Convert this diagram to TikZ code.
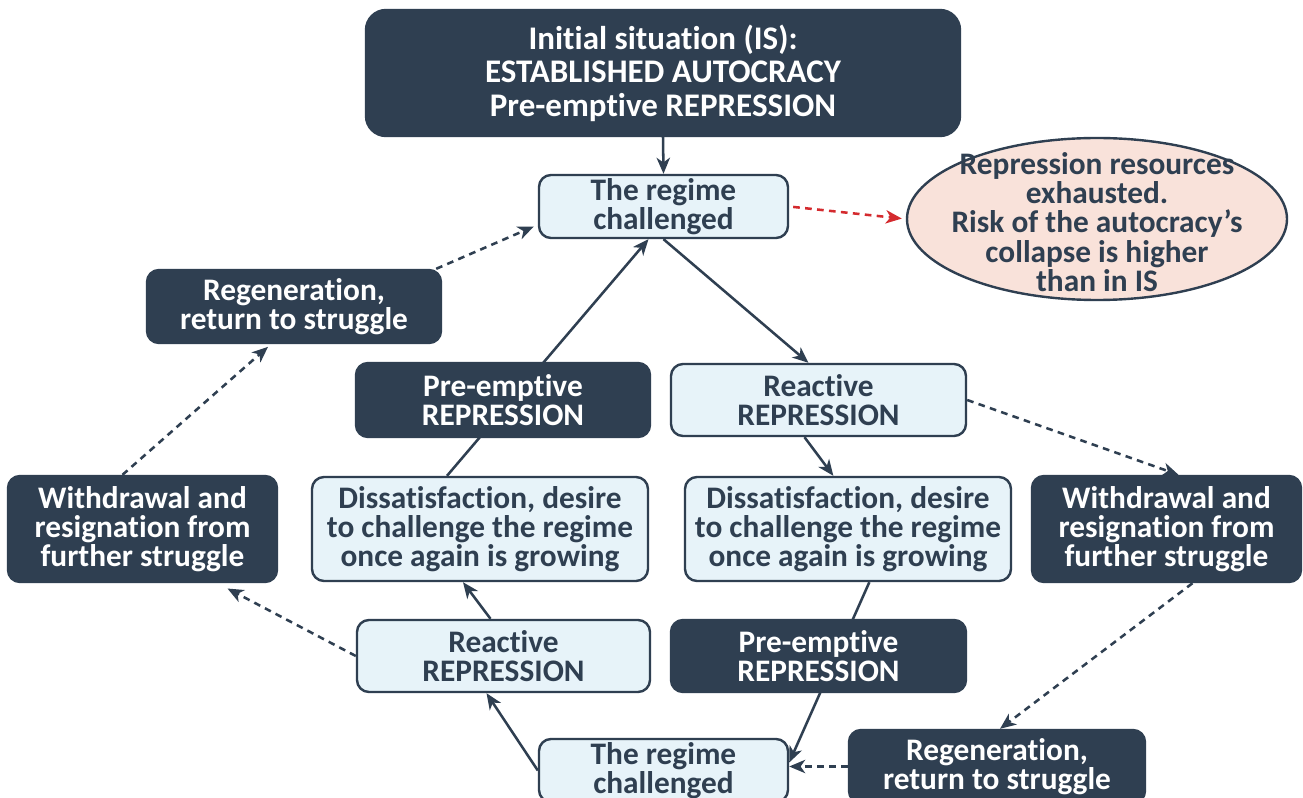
\documentclass[tikz,border=0pt]{standalone}
\usepackage{fontspec}
\setmainfont{Carlito}[RawFeature={-liga;-clig;-calt;-dlig}]
\usetikzlibrary{arrows.meta,shapes.geometric,backgrounds}
\definecolor{navy}{HTML}{2F3F51}
\definecolor{lightb}{HTML}{E7F3F9}
\definecolor{pinkb}{HTML}{F9E2DA}
\definecolor{redc}{HTML}{D42A2E}
\begin{document}
\begin{tikzpicture}[x=0.75pt,y=-0.75pt,
 box/.style={rounded corners=9pt, line width=1.8pt, draw=navy, align=center, inner sep=0pt,
   font=\bfseries\fontsize{23.5}{21.75}\selectfont},
 darkbox/.style={box, fill=navy, text=white},
 lightbox/.style={box, fill=lightb, text=navy},
 arr/.style={line width=1.9pt, draw=navy, -{Stealth[length=12pt,width=10pt,inset=3.5pt]}},
 dasharr/.style={arr, dash pattern=on 5pt off 4pt},
 ]
\useasboundingbox (0,0) rectangle (1303,798);
% nodes
\node[darkbox, rounded corners=15pt, minimum width=445.5pt, minimum height=94.5pt,
  font=\bfseries\fontsize{24.75}{25.1}\selectfont] (is) at (663,73)
  {Initial situation (IS):\\ESTABLISHED AUTOCRACY\\Pre-emptive REPRESSION};
\node[lightbox, minimum width=186.75pt, minimum height=47.25pt] (regT) at (663.5,206.5) {The regime\\challenged};
\node[ellipse, draw=navy, fill=pinkb, line width=1.8pt, minimum width=285pt, minimum height=121.5pt,
  inner sep=0pt] (ell) at (1097,219) {};
\node[align=center, text=navy, inner sep=0pt, font=\bfseries\fontsize{23.5}{22}\selectfont] (elltext) at (1097,222)
  {Repression resources\\exhausted.\\Risk of the autocracy’s\\collapse is higher\\than in IS};
\node[darkbox, minimum width=220.5pt, minimum height=54.75pt] (regenL) at (294,306.5) {Regeneration,\\return to struggle};
\node[darkbox, minimum width=220.5pt, minimum height=55.5pt] (preL) at (503,400) {Pre-emptive\\REPRESSION};
\node[lightbox, minimum width=221.25pt, minimum height=54pt] (reactR) at (818.5,400) {Reactive\\REPRESSION};
\node[darkbox, minimum width=201.75pt, minimum height=79.5pt] (withL) at (142.5,529) {Withdrawal and\\resignation from\\further struggle};
\node[lightbox, minimum width=252pt, minimum height=78pt] (dissL) at (480,529) {Dissatisfaction, desire\\to challenge the regime\\once again is growing};
\node[lightbox, minimum width=244.5pt, minimum height=78pt] (dissR) at (848,529) {Dissatisfaction, desire\\to challenge the regime\\once again is growing};
\node[darkbox, minimum width=201.75pt, minimum height=79.5pt] (withR) at (1166.5,529) {Withdrawal and\\resignation from\\further struggle};
\node[lightbox, minimum width=219.75pt, minimum height=54pt] (reactL) at (503.5,656) {Reactive\\REPRESSION};
\node[darkbox, minimum width=221.25pt, minimum height=54pt] (preR) at (818.5,656) {Pre-emptive\\REPRESSION};
\node[lightbox, minimum width=186.75pt, minimum height=47.25pt] (regB) at (663.5,770.5) {The regime\\challenged};
\node[darkbox, minimum width=222pt, minimum height=54.75pt] (regenR) at (997,766.5) {Regeneration,\\return to struggle};
% connectors
\begin{scope}[on background layer]
\fill[white] (0,0) rectangle (1303,798);
\draw[arr] (is.south) -- (regT.north);
\draw[arr, draw=redc, dash pattern=on 5pt off 4pt, shorten <=3pt, shorten >=3pt] (regT.east) -- (ell.west);
\draw[arr] (regT.south) -- ([xshift=-7.5pt]reactR.north);
\draw[arr] ([xshift=-24.75pt]dissL.north) -- ([xshift=-11.25pt]regT.south);
\draw[arr] ([xshift=-10.5pt]reactR.south) -- ([xshift=-11pt]dissR.north);
\draw[arr] ([xshift=16pt]dissR.south) -- ([yshift=6pt]regB.east);
\draw[arr] (regB.west) -- ([xshift=-12.75pt]reactL.south);
\draw[arr] ([xshift=-9.75pt]reactL.north) -- ([xshift=-12.75pt]dissL.south);
\draw[dasharr] (reactR.east) -- ([xshift=9pt]withR.north);
\draw[dasharr] ([xshift=19.5pt]withR.south) -- ([xshift=2.25pt]regenR.north);
\draw[dasharr] (regenR.west) -- (regenR.west -| regB.east);
\draw[dasharr] (reactL.west) -- ([xshift=63.75pt, yshift=-4pt]withL.south);
\draw[dasharr] ([xshift=-15pt]withL.north) -- ([xshift=-19.5pt,yshift=-2pt]regenL.south);
\draw[dasharr] ([xshift=-4.5pt]regenL.north east) -- ([xshift=-3pt,yshift=-15pt]regT.west);
\end{scope}
\end{tikzpicture}
\end{document}
